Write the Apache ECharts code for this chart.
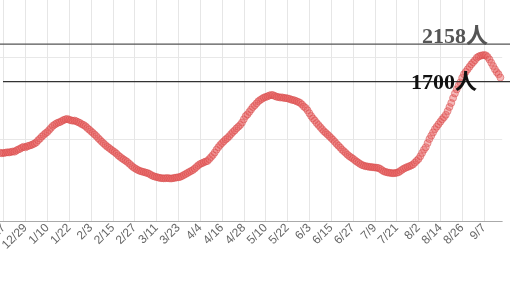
<!DOCTYPE html>
<html>
<head>
<meta charset="utf-8">
<script src="https://cdn.jsdelivr.net/npm/echarts@6/dist/echarts.min.js"></script>
<style>
html,body{margin:0;padding:0;background:#fff;}
#c{width:510px;height:283px;}
</style>
</head>
<body>
<div id="c"></div>
<script>
// Axis runs 12/15 (2022) to 9/17 (2023); labels every 12 days starting at 12/17
var startDate = [2022, 11, 15];
var dayCount = 277;
var labelEvery = 12;
var firstLabelIndex = 2;

// daily values from 12/15 to 9/16
var values = [
  832, 826, 830,                                         // 12/15-12/17
  833, 838, 836, 842, 848, 845, 860, 872, 880, 895,      // -12/27
  905, 898, 912, 918, 925, 935,
  945, 960, 985, 1005, 1030, 1050, 1070, 1085,
  1110, 1135, 1160, 1175, 1190, 1200, 1207,
  1220, 1232, 1240, 1245, 1235, 1228, 1222,
  1225, 1215, 1205, 1195, 1180, 1170, 1155, 1134,
  1115, 1095, 1075, 1055, 1035, 1010, 988,
  965, 945, 925, 905, 890, 872, 855,
  840, 822, 800, 782, 765, 750, 735, 720,
  700, 680, 660, 645, 632, 620, 610,
  603, 598, 590, 585, 575, 562, 550,
  542, 536, 530, 525, 522, 520, 522, 524,
  520, 518, 522, 526, 530, 533, 538,
  548, 560, 572, 585, 598, 610, 622,
  640, 660, 680, 695, 705, 715, 725, 732,
  755, 780, 805, 835, 870, 900, 927,
  950, 972, 995, 1012, 1035, 1060, 1085,
  1105, 1130, 1150, 1171, 1200, 1240, 1280,
  1300, 1330, 1360, 1390, 1410, 1435, 1460,
  1476, 1490, 1505, 1512, 1520, 1530, 1537, 1535,
  1525, 1515, 1512, 1505, 1508, 1500, 1500,
  1495, 1490, 1480, 1476, 1470, 1460, 1451,
  1440, 1420, 1395, 1378, 1350, 1315, 1280,
  1250, 1225, 1195, 1171, 1145, 1120, 1095,
  1075, 1055, 1035, 1012, 990, 965, 940,
  918, 895, 870, 850, 830, 808, 790,
  775, 760, 742, 725, 710, 695, 682,
  675, 668, 665, 660, 658, 655, 652,
  650, 646, 635, 620, 605, 598, 592,
  588, 585, 582, 584, 588, 595, 610,
  625, 640, 650, 660, 668, 678, 690,
  712, 735, 756, 790, 830, 870, 900,
  950, 1000, 1040, 1080, 1120, 1150, 1180,
  1210, 1240, 1265, 1295, 1340, 1390, 1440,
  1500, 1555, 1605, 1650, 1690, 1745, 1790,
  1820, 1850, 1880, 1910, 1935, 1960, 1990,
  2005, 2015, 2020, 2024, 2020, 2000, 1970,
  1930, 1890, 1850, 1815, 1790, 1750
];

// reference lines
var refValues = [2158, 1700];
var refLabels = ['2158人', '1700人'];

var categories = [];
for (var i = 0; i < dayCount; i++) {
  var dt = new Date(startDate[0], startDate[1], startDate[2] + i);
  categories.push((dt.getMonth() + 1) + '/' + dt.getDate());
}
function onLabel(idx) { return (idx - firstLabelIndex) % labelEvery === 0; }

var chart = echarts.init(document.getElementById('c'), null, {renderer: 'canvas'});
chart.setOption({
  animation: false,
  grid: {left: 0, right: 7.8, top: 0, bottom: 62, containLabel: false, outerBoundsMode: 'none'},
  xAxis: {
    type: 'category',
    boundaryGap: false,
    data: categories,
    axisLine: {lineStyle: {color: '#aaa'}},
    axisTick: {show: false, interval: onLabel},
    axisLabel: {
      interval: onLabel, rotate: 45, color: '#666', fontSize: 12,
      fontFamily: 'Liberation Sans, Arial, sans-serif', margin: 5
    },
    splitLine: {show: true, interval: onLabel, lineStyle: {color: '#e6e6e6'}}
  },
  yAxis: {
    type: 'value', min: 0, max: 2695, interval: 1000,
    axisLabel: {show: false}, axisLine: {show: false}, axisTick: {show: false},
    splitLine: {lineStyle: {color: ['#e8e8e8', '#e8e8e8', '#e8e8e8', 'rgba(0,0,0,0)']}}
  },
  series: [{
    type: 'scatter',
    data: values,
    symbol: 'circle',
    symbolSize: 7,
    itemStyle: {color: 'rgba(232,96,96,0.55)', borderColor: 'rgba(214,72,72,0.8)', borderWidth: 0.8}
  }]
});

// reference lines across the full visible width, placed through the y scale
var yTop = chart.convertToPixel({xAxisIndex: 0, yAxisIndex: 0}, [0, refValues[0]])[1];
var yLow = chart.convertToPixel({xAxisIndex: 0, yAxisIndex: 0}, [0, refValues[1]])[1];
var W = chart.getWidth();
var labelFont = 'bold 22px "Liberation Serif", "DejaVu Serif", "Noto Sans CJK JP", serif';
chart.setOption({
  graphic: [
    {type: 'line', shape: {x1: 0, y1: yTop, x2: W, y2: yTop}, style: {stroke: '#555', lineWidth: 1.2}, z: 50},
    {type: 'line', shape: {x1: 3, y1: yLow, x2: W, y2: yLow}, style: {stroke: '#333', lineWidth: 1.2}, z: 50},
    {type: 'text', x: 488, y: yTop + 4, style: {text: refLabels[0], font: labelFont, fill: '#555', textAlign: 'right', textVerticalAlign: 'bottom'}, z: 51},
    {type: 'text', x: 477, y: yLow + 2, style: {text: refLabels[1], font: labelFont, fill: '#111', textAlign: 'right', textVerticalAlign: 'middle'}, z: 51}
  ]
});
</script>
</body>
</html>
